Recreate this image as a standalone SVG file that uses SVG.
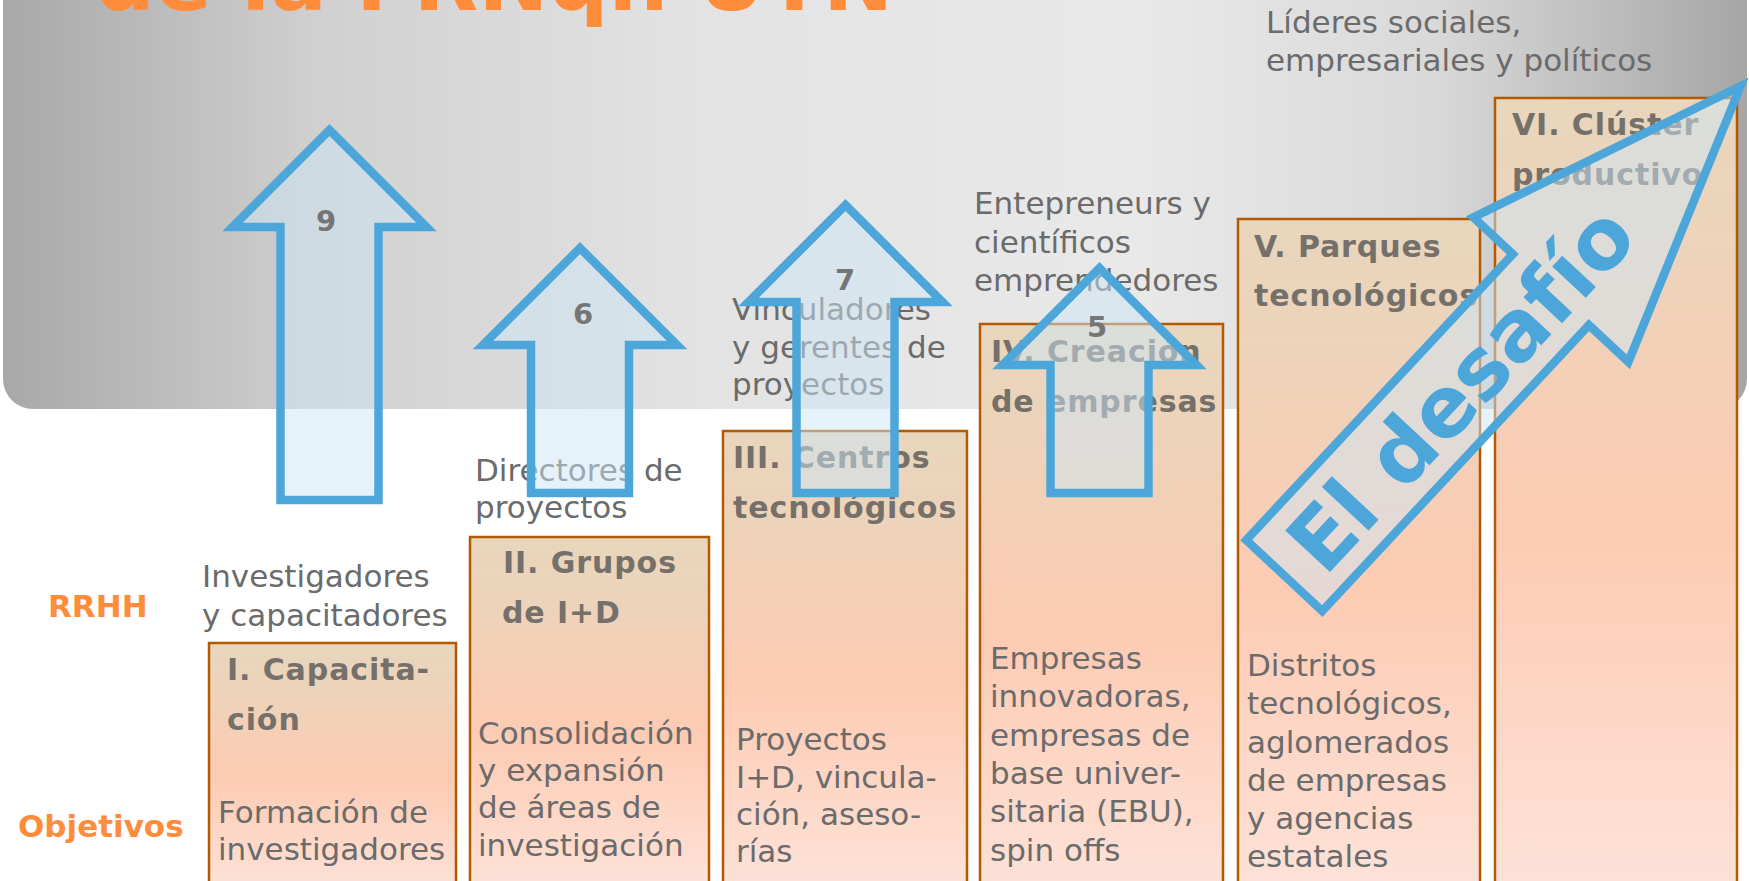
<svg xmlns="http://www.w3.org/2000/svg" width="1749" height="881" viewBox="0 0 1749 881">
  <defs>
    <linearGradient id="panelGrad" x1="0" y1="0" x2="1" y2="0">
      <stop offset="0" stop-color="#a8a8a8"/>
      <stop offset="0.18" stop-color="#d0d0d0"/>
      <stop offset="0.4" stop-color="#e3e3e3"/>
      <stop offset="0.65" stop-color="#e9e9e9"/>
      <stop offset="0.82" stop-color="#d9d9d9"/>
      <stop offset="1" stop-color="#a6a6a6"/>
    </linearGradient>
    <linearGradient id="boxGrad" x1="0" y1="0" x2="0" y2="1">
      <stop offset="0" stop-color="#e8d6bc"/>
      <stop offset="0.2" stop-color="#edd3ba"/>
      <stop offset="0.55" stop-color="#fdcbb3"/>
      <stop offset="1" stop-color="#fde2d8"/>
    </linearGradient>
    <style>
      .lbl { font-family: "DejaVu Sans", Verdana, sans-serif; font-size: 31px; fill: #6b6b6b; }
      .ttl { font-family: "DejaVu Sans", Verdana, sans-serif; font-size: 30px; font-weight: bold; fill: #75706a; letter-spacing: 0.9px; }
      .side { font-family: "DejaVu Sans", Verdana, sans-serif; font-size: 31px; font-weight: bold; fill: #ff8c3b; }
      .num { font-family: "DejaVu Sans", Verdana, sans-serif; font-size: 29px; font-weight: bold; fill: #757575; text-anchor: middle; }
      .box { fill: url(#boxGrad); stroke: #b35a00; stroke-width: 2.5; }
      .arrow { fill: #cde6f5; fill-opacity: 0.5; stroke: #4da6d9; stroke-width: 8.5; stroke-linejoin: miter; stroke-miterlimit: 6; }
      .big { font-family: "DejaVu Sans", Verdana, sans-serif; font-size: 84px; font-weight: bold; fill: #4da6d9; }
    </style>
  </defs>

  <g id="background">
    <rect x="3" y="-40" width="1744" height="449" rx="30" ry="30" fill="url(#panelGrad)"/>
    <text x="95" y="10" font-family="'DejaVu Sans', Verdana, sans-serif" font-size="84" font-weight="bold" fill="#ff8c3b">de la FRNqn UTN</text>
  </g>

  <g id="side-labels">
    <text class="side" x="48" y="617">RRHH</text>
    <text class="side" x="18" y="837">Objetivos</text>
  </g>

  <g id="rrhh-labels">
    <text class="lbl" x="202" y="587">Investigadores</text>
    <text class="lbl" x="202" y="626">y capacitadores</text>
    <text class="lbl" x="475" y="481">Directores de</text>
    <text class="lbl" x="475" y="518">proyectos</text>
    <text class="lbl" x="732" y="320">Vinculadores</text>
    <text class="lbl" x="732" y="358">y gerentes de</text>
    <text class="lbl" x="732" y="395">proyectos</text>
    <text class="lbl" x="974" y="214">Entepreneurs y</text>
    <text class="lbl" x="974" y="253">científicos</text>
    <text class="lbl" x="974" y="291">emprendedores</text>
    <text class="lbl" x="1266" y="33">Líderes sociales,</text>
    <text class="lbl" x="1266" y="71">empresariales y políticos</text>
  </g>

  <g id="box-1">
    <rect class="box" x="209" y="643" width="247" height="245"/>
    <text class="ttl" x="227" y="680">I. Capacita-</text>
    <text class="ttl" x="227" y="730">ción</text>
    <text class="lbl" x="218" y="823">Formación de</text>
    <text class="lbl" x="218" y="860">investigadores</text>
  </g>

  <g id="box-2">
    <rect class="box" x="470" y="537" width="239" height="351"/>
    <text class="ttl" x="503" y="573">II. Grupos</text>
    <text class="ttl" x="502" y="623">de I+D</text>
    <text class="lbl" x="478" y="744">Consolidación</text>
    <text class="lbl" x="478" y="781">y expansión</text>
    <text class="lbl" x="478" y="818">de áreas de</text>
    <text class="lbl" x="478" y="856">investigación</text>
  </g>

  <g id="box-3">
    <rect class="box" x="723" y="431" width="244" height="457"/>
    <text class="ttl" x="733" y="468">III. Centros</text>
    <text class="ttl" x="733" y="518">tecnológicos</text>
    <text class="lbl" x="736" y="750">Proyectos</text>
    <text class="lbl" x="736" y="788">I+D, vincula-</text>
    <text class="lbl" x="736" y="825">ción, aseso-</text>
    <text class="lbl" x="736" y="862">rías</text>
  </g>

  <g id="box-4">
    <rect class="box" x="980" y="324" width="243" height="564"/>
    <text class="ttl" x="991" y="362">IV. Creación</text>
    <text class="ttl" x="991" y="412">de empresas</text>
    <text class="lbl" x="990" y="669">Empresas</text>
    <text class="lbl" x="990" y="707">innovadoras,</text>
    <text class="lbl" x="990" y="746">empresas de</text>
    <text class="lbl" x="990" y="784">base univer-</text>
    <text class="lbl" x="990" y="822">sitaria (EBU),</text>
    <text class="lbl" x="990" y="861">spin offs</text>
  </g>

  <g id="box-5">
    <rect class="box" x="1238" y="219" width="242" height="669"/>
    <text class="ttl" x="1254" y="257">V. Parques</text>
    <text class="ttl" x="1254" y="306">tecnológicos</text>
    <text class="lbl" x="1247" y="676">Distritos</text>
    <text class="lbl" x="1247" y="714">tecnológicos,</text>
    <text class="lbl" x="1247" y="753">aglomerados</text>
    <text class="lbl" x="1247" y="791">de empresas</text>
    <text class="lbl" x="1247" y="829">y agencias</text>
    <text class="lbl" x="1247" y="867">estatales</text>
  </g>

  <g id="box-6">
    <rect class="box" x="1495" y="98" width="242" height="790"/>
    <text class="ttl" x="1512" y="135">VI. Clúster</text>
    <text class="ttl" x="1512" y="185">productivo</text>
  </g>

  <g id="connectors">
    <g id="arrow-9">
      <path class="arrow" d="M329.5,130 L426.5,227 L378.5,227 L378.5,500 L280.5,500 L280.5,227 L232.5,227 Z"/>
      <text class="num" x="326" y="231">9</text>
    </g>
    <g id="arrow-6">
      <path class="arrow" d="M580,248 L677,345 L629,345 L629,493 L531,493 L531,345 L483,345 Z"/>
      <text class="num" x="583" y="324">6</text>
    </g>
    <g id="arrow-7">
      <path class="arrow" d="M845.5,205 L942.5,302 L894.5,302 L894.5,493 L796.5,493 L796.5,302 L748.5,302 Z"/>
      <text class="num" x="845" y="290">7</text>
    </g>
    <g id="arrow-5">
      <path class="arrow" d="M1099.5,268 L1196.5,365 L1148.5,365 L1148.5,493 L1050.5,493 L1050.5,365 L1002.5,365 Z"/>
      <text class="num" x="1097" y="337">5</text>
    </g>
    <g id="arrow-desafio" transform="translate(1281.5,578.5) rotate(-47)">
      <path class="arrow" d="M4,-52 L395,-52 L395,-106 L673,0 L395,106 L395,52 L4,52 Z"/>
      <text class="big" x="30" y="31">El desafío</text>
    </g>
  </g>
</svg>
